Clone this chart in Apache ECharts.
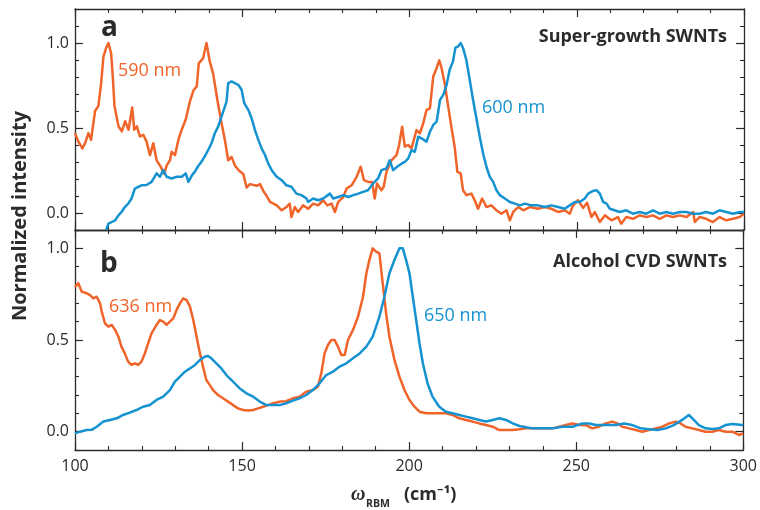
<!DOCTYPE html>
<html>
<head>
<meta charset="utf-8">
<script src="https://cdn.jsdelivr.net/npm/echarts@6/dist/echarts.min.js"></script>
<style>
  html, body { margin: 0; padding: 0; background: #fff; }
  #chart { width: 760px; height: 510px; }
</style>
</head>
<body>
<div id="chart"></div>
<script>
// Raman RBM spectra, [wavenumber (cm^-1), normalized intensity]

// (a) Super-growth SWNTs, 590 nm excitation
const superGrowth590 = [
  [100,0.47],[101,0.42],[102.2,0.38],[103,0.41],[104,0.47],[104.8,0.43],[106,0.60],[107,0.63],[107.8,0.76],
  [108.5,0.92],[109.3,0.97],[110,1.0],[110.8,0.94],[111.3,0.80],[111.8,0.63],[113,0.51],[114,0.48],[115,0.54],
  [116,0.49],[117.1,0.62],[117.7,0.49],[118.5,0.51],[119.4,0.45],[120.4,0.46],[121.4,0.42],[122.4,0.34],
  [123.4,0.41],[124.4,0.31],[125.7,0.27],[126.7,0.23],[127.4,0.28],[128.4,0.31],[128.9,0.36],[129.9,0.34],
  [130.9,0.43],[131.9,0.49],[133.1,0.55],[134.4,0.66],[135.4,0.72],[136.4,0.745],[137,0.88],[138.3,0.91],
  [139.3,1.0],[140.3,0.89],[141.3,0.82],[142.6,0.66],[143.8,0.53],[144.8,0.43],[145.8,0.31],[146.8,0.33],
  [147.8,0.28],[149,0.25],[150.3,0.23],[151.3,0.15],[152.3,0.17],[154.3,0.16],[155.3,0.17],[156.3,0.13],
  [157.3,0.10],[158.3,0.065],[160.3,0.045],[161.8,0.016],[163.2,0.035],[164.2,0.055],[164.7,-0.024],
  [165.7,0.035],[166.7,0.006],[168.2,0.045],[169.7,0.025],[171.2,0.055],[172.7,0.045],[174.2,0.075],
  [175.4,0.045],[176.7,0.055],[177.7,0.006],[178.7,0.065],[180.2,0.094],[181.2,0.144],[182.7,0.163],
  [184.2,0.213],[185.4,0.272],[186.4,0.193],[187.6,0.183],[188.8,0.183],[189.6,0.085],[190.3,0.173],
  [191.6,0.134],[192.3,0.154],[193.1,0.242],[194.6,0.31],[196.1,0.34],[196.9,0.40],[197.8,0.508],
  [198.6,0.39],[199.6,0.40],[200.6,0.38],[202.1,0.488],[203.1,0.469],[204.1,0.528],[205.1,0.607],
  [206.1,0.616],[207.1,0.803],[208.1,0.852],[208.9,0.898],[209.6,0.852],[210.6,0.754],[211.5,0.636],
  [212.5,0.508],[213.5,0.39],[214.3,0.242],[215.3,0.233],[216,0.134],[217,0.105],[218.5,0.114],
  [219.5,0.075],[220.5,0.025],[221.7,0.085],[223,0.035],[224.5,0.045],[226,0.016],[227.5,-0.004],
  [229,0.016],[230,-0.043],[231,0.006],[232.5,0.035],[234,0.016],[236,0.035],[238.4,0.025],[240.4,0.035],
  [242.4,0.025],[244.4,0.006],[246.4,0.016],[247.9,-0.004],[248.9,0.045],[250.4,0.075],[251.9,0.03],
  [253.1,0.06],[254.4,-0.024],[255.4,0.006],[256.9,-0.053],[258.4,-0.014],[260.4,-0.043],[262.3,-0.024],
  [263.3,-0.063],[264.8,-0.024],[266.8,-0.034],[268.8,-0.014],[270.8,-0.024],[272.8,-0.014],[274.8,-0.034],
  [276.8,-0.014],[278.8,-0.024],[280.8,-0.014],[282.8,-0.024],[284.8,0.006],[285.3,-0.053],[286.7,-0.024],
  [288.7,-0.034],[290.7,-0.053],[292.7,-0.024],[294.7,-0.043],[296.7,-0.034],[298.7,-0.024],[300,-0.004]
];

// (a) Super-growth SWNTs, 600 nm excitation
const superGrowth600 = [
  [109.3,-0.10],[110,-0.063],[111,-0.053],[112,-0.043],[113,-0.014],[113.9,0.006],[114.9,0.035],[115.9,0.055],
  [116.9,0.085],[117.9,0.144],[118.9,0.154],[119.9,0.163],[121.4,0.165],[122.9,0.183],[124.4,0.233],
  [125.4,0.213],[126.4,0.252],[127.4,0.213],[128.9,0.203],[130.4,0.213],[131.9,0.213],[133.1,0.233],
  [133.9,0.183],[135,0.223],[135.8,0.242],[136.7,0.272],[137.8,0.301],[139,0.341],[139.8,0.37],[140.8,0.41],
  [141.8,0.469],[142.8,0.508],[143.8,0.567],[144.8,0.626],[145.3,0.656],[145.8,0.764],[146.8,0.774],
  [147.8,0.764],[148.8,0.754],[149.8,0.725],[150.6,0.646],[151.8,0.607],[152.8,0.557],[153.8,0.488],
  [154.8,0.43],[155.8,0.38],[156.8,0.341],[157.8,0.29],[158.8,0.252],[160.3,0.213],[161.8,0.193],
  [163.2,0.163],[164.7,0.154],[166.2,0.114],[167.7,0.105],[169.2,0.085],[169.7,0.065],[171.2,0.085],
  [172.7,0.075],[174.2,0.085],[176.2,0.114],[177.2,0.085],[178.7,0.094],[180.2,0.105],[181.7,0.094],
  [183.2,0.105],[184.7,0.114],[186.1,0.124],[187.6,0.134],[189.1,0.173],[190.6,0.203],[191.6,0.252],
  [193.1,0.262],[194.1,0.31],[195.1,0.252],[196.3,0.272],[197.6,0.29],[198.6,0.301],[199.6,0.32],
  [200.6,0.37],[201.6,0.36],[202.6,0.449],[203.6,0.439],[205.1,0.42],[206.1,0.478],[207.1,0.518],
  [208.1,0.537],[208.6,0.597],[209.1,0.665],[210.1,0.695],[211.1,0.754],[212,0.843],[213,0.892],
  [213.7,0.971],[214.5,0.98],[215.3,1.0],[216,0.971],[217,0.90],[218,0.784],[219,0.665],[220,0.557],
  [221,0.449],[222,0.35],[223,0.272],[224,0.213],[225,0.183],[226,0.134],[227,0.105],[228.5,0.085],
  [230,0.065],[231.5,0.055],[233,0.045],[234.5,0.055],[236.4,0.045],[238.4,0.045],[240.4,0.035],
  [242.4,0.045],[244.4,0.035],[246.4,0.025],[247.9,0.045],[249.4,0.065],[250.9,0.065],[252.4,0.085],
  [253.4,0.114],[254.9,0.13],[255.9,0.134],[256.9,0.114],[257.9,0.065],[258.9,0.055],[259.9,0.025],
  [261.3,0.016],[262.8,0.006],[264.8,0.016],[266.8,-0.004],[268.8,0.006],[270.8,-0.004],[272.8,0.016],
  [274.8,-0.004],[276.8,0.006],[278.8,-0.004],[280.8,0.006],[282.8,0.006],[284.8,-0.004],[286.7,-0.004],
  [288.7,0.006],[290.7,-0.004],[292.7,0.016],[294.7,0.006],[296.7,-0.004],[298.7,0.006],[300,0.006]
];

// (b) Alcohol CVD SWNTs, 636 nm excitation
const alcoholCvd636 = [
  [100,0.79],[101,0.81],[102,0.764],[103.5,0.755],[104.5,0.745],[105.5,0.727],[106.5,0.736],[107.5,0.70],
  [108,0.655],[109,0.59],[110,0.573],[111,0.582],[112,0.555],[113,0.518],[113.9,0.464],[114.9,0.427],
  [115.9,0.382],[116.9,0.364],[117.9,0.373],[118.9,0.364],[119.9,0.382],[120.9,0.427],[121.9,0.482],
  [122.9,0.536],[124.4,0.582],[125.4,0.609],[126.4,0.60],[127.4,0.582],[128.4,0.60],[129.4,0.618],
  [130.4,0.664],[131.4,0.70],[132.4,0.727],[133.4,0.718],[134.4,0.682],[135.4,0.609],[136.4,0.518],
  [137.4,0.427],[138.3,0.355],[139.3,0.282],[140.3,0.255],[141.3,0.227],[142.8,0.20],[144.3,0.182],
  [145.8,0.164],[147.3,0.145],[148.8,0.127],[150.3,0.118],[151.8,0.115],[153.3,0.118],[154.8,0.127],
  [156.3,0.136],[157.8,0.145],[159.3,0.155],[161.3,0.164],[163.2,0.166],[165.2,0.182],[167.2,0.191],
  [169.2,0.218],[171.2,0.227],[172.7,0.245],[173.7,0.318],[174.7,0.427],[175.7,0.473],[176.7,0.50],
  [177.7,0.50],[178.7,0.464],[179.7,0.418],[180.7,0.418],[181.7,0.50],[183.2,0.555],[184.7,0.627],
  [186.2,0.736],[187.2,0.864],[188.1,0.936],[189.1,1.0],[190.1,0.982],[191.1,0.973],[192.1,0.809],
  [193.1,0.645],[194.1,0.518],[195.6,0.391],[197.1,0.30],[198.6,0.227],[200.1,0.173],[201.6,0.136],
  [203.1,0.109],[205.1,0.10],[207,0.10],[209,0.10],[211,0.10],[213,0.091],[215,0.073],[217,0.064],
  [219,0.055],[221,0.045],[223,0.036],[225,0.027],[227,0.009],[229,0.009],[231,0.009],[233,0.013],
  [235,0.018],[236.9,0.018],[238.9,0.018],[240.9,0.018],[242.9,0.018],[244.9,0.027],[246.9,0.036],
  [248.9,0.045],[250.9,0.036],[252.9,0.036],[254.8,0.018],[256.8,0.027],[258.8,0.045],[260.8,0.055],
  [262.3,0.045],[263.8,0.027],[265.8,0.018],[267.8,0.009],[269.8,0.0],[271.8,0.009],[273.8,0.018],
  [275.8,0.027],[277.8,0.045],[279.8,0.055],[281.2,0.045],[282.7,0.027],[284.7,0.018],[286.7,0.009],
  [288.7,0.0],[290.7,0.0],[292.7,0.009],[294.7,0.0],[296.7,0.0],[298.7,-0.018],[300,-0.009]
];

// (b) Alcohol CVD SWNTs, 650 nm excitation
const alcoholCvd650 = [
  [100,-0.009],[101.5,0.0],[103.5,0.009],[105,0.01],[106.5,0.027],[108.5,0.055],[110.5,0.064],[112.5,0.073],
  [114.4,0.091],[116.4,0.104],[118.4,0.118],[120.4,0.136],[122.4,0.145],[124.4,0.173],[126.4,0.191],
  [128.4,0.227],[129.9,0.273],[131.4,0.30],[132.9,0.327],[134.4,0.345],[135.9,0.364],[137.4,0.391],
  [138.8,0.409],[139.8,0.413],[140.8,0.40],[142.3,0.373],[143.8,0.345],[145.3,0.309],[147.3,0.273],
  [149.3,0.236],[151.3,0.209],[153.3,0.191],[155.3,0.164],[157.3,0.145],[159.3,0.145],[161.3,0.145],
  [163.2,0.155],[165.2,0.169],[167.2,0.182],[169.2,0.20],[171.2,0.227],[173.2,0.264],[175.2,0.309],
  [177.2,0.327],[179.2,0.355],[181.2,0.373],[183.2,0.40],[185.2,0.427],[187.2,0.464],[189.1,0.518],
  [191.1,0.627],[192.6,0.736],[194.1,0.864],[195.6,0.936],[197.1,1.0],[198.1,1.0],[199.1,0.936],
  [200.1,0.864],[201.1,0.736],[202.1,0.609],[203.1,0.482],[204.1,0.373],[205.5,0.264],[207,0.191],
  [209,0.136],[211,0.109],[213,0.10],[215,0.091],[217,0.082],[219,0.073],[221,0.064],[223,0.055],
  [225,0.064],[227,0.073],[229,0.064],[231,0.045],[233,0.031],[235,0.024],[236.9,0.018],[239.9,0.018],
  [242.9,0.018],[245.9,0.027],[248.9,0.027],[251.9,0.045],[253.9,0.045],[255.8,0.036],[258.8,0.036],
  [261.8,0.036],[264.3,0.045],[266.8,0.036],[269.3,0.018],[271.8,0.013],[274.3,0.009],[276.8,0.018],
  [279.2,0.036],[281.7,0.064],[283.7,0.091],[285.2,0.064],[286.7,0.036],[288.7,0.018],[290.7,0.014],
  [292.7,0.018],[294.7,0.036],[296.7,0.042],[299.7,0.036],[300,0.036]
];

const xRange = [100, 300];
const yRangeTop = [-0.1, 1.2];
const yRangeBottom = [-0.1, 1.1];
const yLabelValues = [0, 0.5, 1.0];

const ORANGE = '#F0642A';
const BLUE = '#1592D0';
const INK = '#2b2b2b';
const FONT = '"Open Sans", "Noto Sans", sans-serif';

const chart = echarts.init(document.getElementById('chart'), null, { renderer: 'canvas' });

function xAxisDef(gridIndex, position, showLabels) {
  return {
    type: 'value', gridIndex, position,
    min: xRange[0], max: xRange[1], interval: 50,
    axisLine: { show: true, onZero: false, lineStyle: { color: INK, width: 1.3 } },
    axisTick: { show: true, inside: true, length: 8, lineStyle: { color: INK, width: 1.2 } },
    minorTick: { show: true, splitNumber: 5, length: 4, lineStyle: { color: INK, width: 1.1 } },
    axisLabel: { show: showLabels, margin: 8, color: INK, fontSize: 16, fontFamily: FONT },
    splitLine: { show: false }
  };
}

function yAxisMinor(gridIndex, position, range, showLabels) {
  return {
    type: 'value', gridIndex, position,
    min: range[0], max: range[1], interval: 0.1,
    axisLine: { show: true, onZero: false, lineStyle: { color: INK, width: 1.3 } },
    axisTick: { show: true, inside: true, length: 4, lineStyle: { color: INK, width: 1.1 } },
    axisLabel: {
      show: showLabels, margin: 6, color: INK, fontSize: 16, fontFamily: FONT,
      customValues: yLabelValues,
      formatter: v => v.toFixed(1)
    },
    splitLine: { show: false }
  };
}

function yAxisMajor(gridIndex, position, range) {
  return {
    type: 'value', gridIndex, position,
    min: range[0], max: range[1],
    axisLine: { show: false },
    axisTick: { show: true, inside: true, length: 8, customValues: yLabelValues, lineStyle: { color: INK, width: 1.2 } },
    axisLabel: { show: false, customValues: yLabelValues },
    splitLine: { show: false }
  };
}

function spectrum(name, data, color, xi, yi) {
  return {
    name, type: 'line', data, xAxisIndex: xi, yAxisIndex: yi,
    showSymbol: false, symbol: 'none', smooth: false, animation: false,
    lineStyle: { color, width: 2.5, join: 'round' },
    z: color === BLUE ? 3 : 2
  };
}

function label(text, x, y, color, font, align) {
  return {
    type: 'text', x, y, silent: true,
    style: { text, fill: color, font, textAlign: align || 'left', textVerticalAlign: 'middle' }
  };
}

chart.setOption({
  animation: false,
  backgroundColor: '#fff',
  grid: [
    { left: 75, right: 16, top: 9, height: 221 },
    { left: 75, right: 16, top: 230, height: 220 }
  ],
  xAxis: [
    xAxisDef(0, 'bottom', false),
    xAxisDef(0, 'top', false),
    xAxisDef(1, 'bottom', true),
    xAxisDef(1, 'top', false)
  ],
  yAxis: [
    yAxisMinor(0, 'left', yRangeTop, true),
    yAxisMajor(0, 'left', yRangeTop),
    yAxisMinor(0, 'right', yRangeTop, false),
    yAxisMajor(0, 'right', yRangeTop),
    yAxisMinor(1, 'left', yRangeBottom, true),
    yAxisMajor(1, 'left', yRangeBottom),
    yAxisMinor(1, 'right', yRangeBottom, false),
    yAxisMajor(1, 'right', yRangeBottom)
  ],
  series: [
    spectrum('590 nm', superGrowth590, ORANGE, 0, 0),
    spectrum('600 nm', superGrowth600, BLUE, 0, 0),
    spectrum('636 nm', alcoholCvd636, ORANGE, 2, 4),
    spectrum('650 nm', alcoholCvd650, BLUE, 2, 4)
  ],
  graphic: [
    label('a', 101, 28, INK, 'bold 28px ' + FONT),
    label('Super-growth SWNTs', 727, 37, INK, 'bold 18px ' + FONT, 'right'),
    label('590 nm', 118, 71, ORANGE, '18px ' + FONT),
    label('600 nm', 482, 108, BLUE, '18px ' + FONT),
    label('b', 100, 264, INK, 'bold 28px ' + FONT),
    label('Alcohol CVD SWNTs', 727, 262, INK, 'bold 18px ' + FONT, 'right'),
    label('636 nm', 109, 307, ORANGE, '18px ' + FONT),
    label('650 nm', 424, 316, BLUE, '18px ' + FONT),
    {
      type: 'text', x: 20, y: 216, rotation: Math.PI / 2, silent: true,
      style: { text: 'Normalized intensity', fill: INK, font: 'bold 20px ' + FONT,
               textAlign: 'center', textVerticalAlign: 'middle' }
    },
    label('\u03C9', 351, 495, INK, 'italic bold 20px "Liberation Serif", "DejaVu Serif", serif'),
    label('RBM', 366, 504, INK, 'bold 10.5px ' + FONT),
    label('(cm\u207B\u00B9)', 404, 495, INK, 'bold 18px ' + FONT)
  ]
});
</script>
</body>
</html>
